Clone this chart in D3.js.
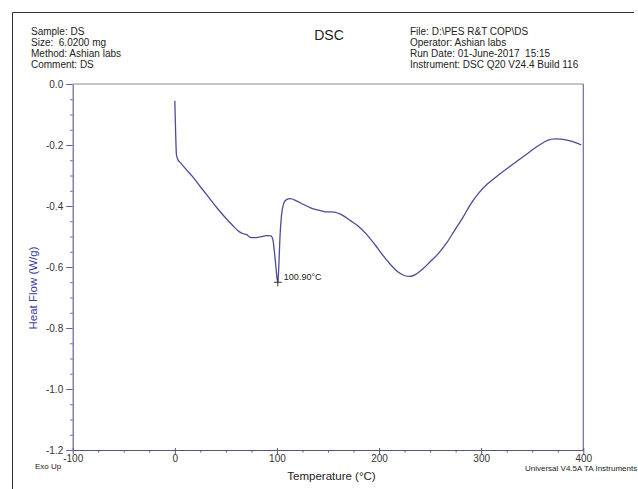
<!DOCTYPE html>
<html>
<head>
<meta charset="utf-8">
<script src="https://cdn.jsdelivr.net/npm/d3@7"></script>
<style>
  html, body { margin: 0; padding: 0; background: #fff; }
  svg { display: block; font-family: "Liberation Sans", Arial, sans-serif; }
  text { white-space: pre; }
</style>
</head>
<body>
<svg id="chart" width="638" height="489"></svg>
<script>
// ---- data ----
const temperature = [0, 0.8, 1.6, 3, 5, 10, 18, 26, 34, 42, 50, 57, 63, 67, 70, 74, 78, 84, 90, 94, 96, 97.5, 99, 100.2, 100.9, 101.8, 103, 104.5, 106.5, 109, 113, 119, 126, 133, 140, 148, 156, 164, 172, 180, 188, 196, 204, 212, 218, 224, 230, 236, 243, 250, 258, 266, 274, 282, 290, 298, 306, 316, 327, 338, 348, 357, 365, 372, 378, 386, 393, 398];
const heatFlow = [-0.055, -0.16, -0.232, -0.248, -0.256, -0.276, -0.306, -0.341, -0.375, -0.409, -0.440, -0.465, -0.484, -0.491, -0.493, -0.503, -0.504, -0.501, -0.497, -0.498, -0.510, -0.550, -0.600, -0.640, -0.650, -0.600, -0.500, -0.430, -0.393, -0.380, -0.376, -0.383, -0.395, -0.406, -0.413, -0.419, -0.420, -0.430, -0.448, -0.467, -0.494, -0.527, -0.563, -0.595, -0.615, -0.627, -0.631, -0.624, -0.606, -0.583, -0.556, -0.522, -0.480, -0.438, -0.392, -0.356, -0.328, -0.301, -0.273, -0.246, -0.221, -0.200, -0.185, -0.180, -0.181, -0.186, -0.193, -0.200];
const xTicks = [-100, 0, 100, 200, 300, 400];
const xTickLabels = ["-100", "0", "100", "200", "300", "400"];
const yTicks = [0, -0.2, -0.4, -0.6, -0.8, -1.0, -1.2];
const yTickLabels = ["0.0", "-0.2", "-0.4", "-0.6", "-0.8", "-1.0", "-1.2"];
const peakT = [100.9];
const peakV = [-0.650];
const peakLabels = ["100.90°C"];
const headerLeft = ["Sample: DS", "Size:  6.0200 mg", "Method: Ashian labs", "Comment: DS"];
const headerRight = ["File: D:\\PES R&T COP\\DS", "Operator: Ashian labs", "Run Date: 01-June-2017  15:15", "Instrument: DSC Q20 V24.4 Build 116"];

(function () {
// ---- layout ----
const svg = d3.select("#chart");
const pL = 72.7, pR = 583.3, pT = 84, pB = 450;
const x = d3.scaleLinear().domain([-100, 400]).range([pL, pR]);
const y = d3.scaleLinear().domain([-1.2, 0]).range([pB, pT]);

// outer frame
svg.append("line").attr("x1", 12.5).attr("x2", 634).attr("y1", 12.5).attr("y2", 12.5).attr("stroke", "#333").attr("stroke-width", 1);
svg.append("line").attr("x1", 12.5).attr("x2", 12.5).attr("y1", 12.5).attr("y2", 489).attr("stroke", "#333").attr("stroke-width", 1);

// header
svg.append("g").selectAll("text").data(headerLeft).join("text")
  .attr("x", 31).attr("y", (d, i) => 35 + i * 11)
  .attr("font-size", 10).attr("fill", "#222").text(d => d);
svg.append("g").selectAll("text").data(headerRight).join("text")
  .attr("x", 410).attr("y", (d, i) => 35 + i * 11)
  .attr("font-size", 10).attr("fill", "#222").text(d => d);
svg.append("text").attr("x", 329).attr("y", 40).attr("text-anchor", "middle")
  .attr("font-size", 14).attr("fill", "#222").text("DSC");

// frame lines of plot
svg.append("line").attr("x1", pL).attr("x2", pR).attr("y1", pT).attr("y2", pT).attr("stroke", "#8a8a8a").attr("stroke-width", 1.2);
svg.append("line").attr("x1", pR).attr("x2", pR).attr("y1", pT).attr("y2", pB).attr("stroke", "#6a6aa8").attr("stroke-width", 1.2);

// minor ticks
const xMinor = d3.range(-100, 401, 25).filter(v => v % 100 !== 0);
const yMinor = d3.range(0, 25).map(i => -i * 0.05).filter((v, i) => i % 4 !== 0);

const xAxis = svg.append("g").attr("transform", `translate(0,${pB})`)
  .call(d3.axisBottom(x).tickValues(xTicks).tickFormat((d, i) => xTickLabels[i]).tickSize(4).tickSizeOuter(0));
xAxis.select(".domain").attr("stroke", "#55557a").attr("stroke-width", 1.2);
xAxis.selectAll(".tick line").attr("stroke", "#55557a").attr("y1", -2);
xAxis.selectAll(".tick text").attr("y", 11.5).attr("dy", null).attr("font-size", 10).attr("fill", "#333").attr("font-family", "Liberation Sans, Arial, sans-serif");
const xAxisMinor = svg.append("g").attr("transform", `translate(0,${pB})`)
  .call(d3.axisBottom(x).tickValues(xMinor).tickFormat("").tickSize(2.5).tickSizeOuter(0));
xAxisMinor.select(".domain").remove();
xAxisMinor.selectAll(".tick line").attr("stroke", "#55557a");

const yAxis = svg.append("g").attr("transform", `translate(${pL},0)`)
  .call(d3.axisLeft(y).tickValues(yTicks).tickFormat((d, i) => yTickLabels[i]).tickSize(6.5).tickPadding(3).tickSizeOuter(0));
yAxis.select(".domain").attr("stroke", "#6060a8").attr("stroke-width", 1.2);
yAxis.selectAll(".tick line").attr("stroke", "#6060a8");
yAxis.selectAll(".tick text").attr("font-size", 10).attr("fill", "#333").attr("dy", "0.35em").attr("font-family", "Liberation Sans, Arial, sans-serif");
const yAxisMinor = svg.append("g").attr("transform", `translate(${pL},0)`)
  .call(d3.axisLeft(y).tickValues(yMinor).tickFormat("").tickSize(2.5).tickSizeOuter(0));
yAxisMinor.select(".domain").remove();
yAxisMinor.selectAll(".tick line").attr("stroke", "#6060a8");

// axis titles
svg.append("text").attr("transform", "translate(37,288) rotate(-90)").attr("text-anchor", "middle")
  .attr("font-size", 11.5).attr("fill", "#3c3ca0").text("Heat Flow (W/g)");
svg.append("text").attr("x", 331.5).attr("y", 480).attr("text-anchor", "middle")
  .attr("font-size", 11.5).attr("fill", "#222").text("Temperature (°C)");
svg.append("text").attr("x", 35).attr("y", 469).attr("font-size", 8).attr("fill", "#222").text("Exo Up");
svg.append("text").attr("x", 525).attr("y", 470.5).attr("font-size", 8).attr("fill", "#222").text("Universal V4.5A TA Instruments");

// curve
const pts = temperature.map((t, i) => [t, heatFlow[i]]);
svg.append("path").datum(pts)
  .attr("fill", "none").attr("stroke", "#4b4b99").attr("stroke-width", 1.3)
  .attr("d", d3.line().x(d => x(d[0])).y(d => y(d[1])).curve(d3.curveMonotoneX));

// peak marker
const peaks = peakT.map((t, i) => ({ t, v: peakV[i], label: peakLabels[i] }));
const pk = svg.append("g").selectAll("g").data(peaks).join("g")
  .attr("transform", d => `translate(${x(d.t)},${y(d.v)})`);
pk.append("path").attr("d", "M-4,0H4M0,-4V4").attr("stroke", "#333").attr("stroke-width", 1);
pk.append("text").attr("x", 6).attr("y", -2).attr("font-size", 9).attr("fill", "#222").text(d => d.label);
})();
</script>
</body>
</html>
